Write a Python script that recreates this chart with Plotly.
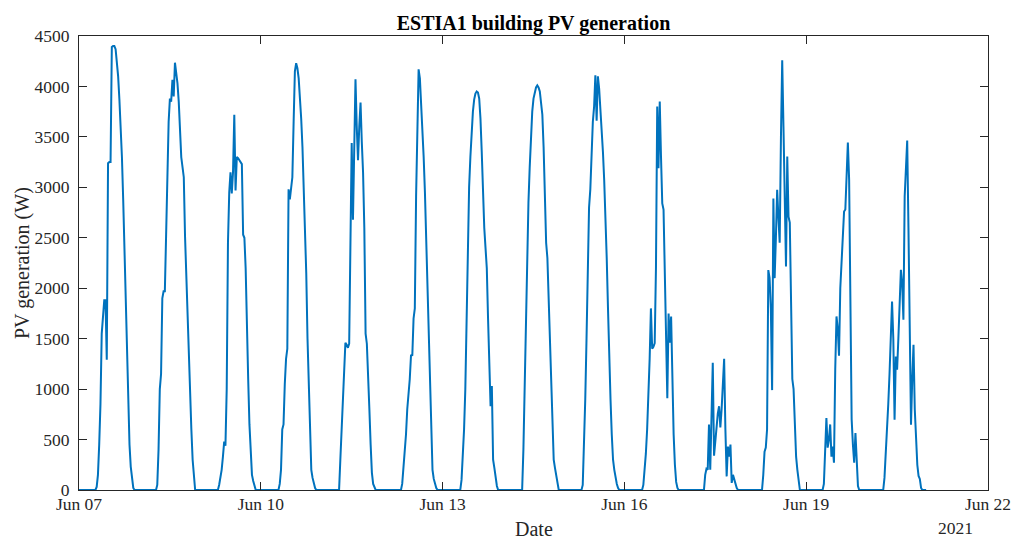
import pandas as pd
import plotly.graph_objects as go

# ---------------- data (30-min samples, each daily list starts at 06:00) ----------------
start_date = "2021-06-07"
slot_minutes = 30
first_slot_hour = 6

jun07 = [0, 0, 30, 150, 450, 850, 1550, 1780, 1880, 1880, 1290, 3240, 3250, 3250, 4390, 4400, 4400, 4370,
         4250, 4100, 3870, 3650, 3300, 2880, 2410, 1900, 1300, 800, 450, 230, 100, 20, 0]
jun08 = [0, 0, 50, 400, 1000, 1150, 1900, 1970, 1970, 2580, 3200, 3650, 3880, 3850, 4065, 3900, 4235, 4130,
         4030, 3850, 3600, 3300, 3200, 3100, 2510, 2100, 1650, 1260, 930, 600, 300, 100, 0]
jun09 = [0, 0, 0, 50, 120, 200, 330, 480, 440, 1000, 2450, 2950, 3150, 2940, 3150, 3720, 2970, 3300,
         3290, 3270, 3240, 3230, 2530, 2500, 2200, 1500, 1100, 650, 330, 150, 90, 40, 0]
jun10 = [0, 0, 0, 60, 200, 600, 650, 1050, 1300, 1400, 2980, 2880, 3000, 3100, 3650, 4150, 4230, 4180,
         4080, 3920, 3680, 3400, 3000, 2650, 2150, 1500, 1000, 550, 200, 120, 60, 20, 0]
jun11 = [0, 0, 0, 300, 600, 780, 1200, 1460, 1440, 1410, 1450, 2680, 3440, 2680, 3400, 4070, 3600, 3270,
         3600, 3840, 3450, 3150, 2600, 1550, 1450, 1200, 800, 450, 170, 60, 20, 0, 0]
jun12 = [0, 0, 0, 0, 60, 200, 350, 550, 800, 930, 1100, 1340, 1330, 1700, 1800, 2910, 3700, 4170,
         4080, 3850, 3600, 3300, 2950, 2500, 2000, 1500, 1050, 550, 200, 110, 50, 20, 0]
jun13 = [0, 0, 0, 100, 300, 600, 1000, 1800, 2500, 3000, 3300, 3550, 3750, 3870, 3930, 3950, 3940, 3880,
         3680, 3350, 2950, 2600, 2400, 2200, 1700, 1150, 830, 1030, 300, 220, 120, 40, 0]
jun14 = [0, 0, 0, 0, 400, 1000, 1700, 2400, 2850, 3200, 3500, 3750, 3880, 3950, 3990, 4010, 3990, 3950,
         3850, 3720, 3400, 2900, 2450, 2300, 1900, 1400, 1000, 600, 300, 220, 130, 50, 0]
jun15 = [0, 0, 0, 50, 400, 900, 1500, 2300, 2800, 2980, 3400, 3650, 3800, 4110, 3660, 4100, 3980, 3800,
         3600, 3350, 3070, 2750, 2300, 1800, 1260, 900, 550, 300, 200, 120, 60, 20, 0]
jun16 = [0, 0, 0, 50, 200, 360, 600, 900, 1300, 1800, 1400, 1420, 1456, 2200, 3800, 3190, 3850, 3300,
         2840, 2780, 2150, 1500, 910, 1750, 1460, 1720, 1000, 550, 250, 80, 20, 0, 0]
jun17 = [0, 0, 0, 0, 150, 210, 200, 650, 200, 700, 1260, 340, 500, 640, 760, 830, 620, 800,
         1000, 1300, 600, 135, 430, 330, 450, 70, 150, 100, 60, 20, 0, 0, 0]
jun18 = [0, 0, 150, 380, 420, 600, 2180, 2100, 1800, 990, 2890, 2100, 2500, 2975, 2700, 2450, 3500, 4260,
         3600, 2900, 2215, 3305, 2710, 2650, 1900, 1100, 1000, 650, 330, 200, 80, 0, 0]
jun19 = [0, 0, 60, 450, 713, 420, 500, 650, 330, 430, 270, 1200, 1720, 1600, 1330, 2000, 2300, 2600,
         2760, 2780, 3100, 3444, 3074, 1700, 700, 450, 270, 565, 200, 40, 0, 0, 0]
jun20 = [0, 0, 120, 330, 600, 850, 1150, 1600, 1869, 1500, 697, 1324, 1192, 1500, 1985, 2183, 2050, 1687,
         2909, 3200, 3464, 2600, 1700, 647, 1100, 1440, 800, 500, 250, 140, 110, 20, 0]

daily_profiles = [jun07, jun08, jun09, jun10, jun11, jun12, jun13,
                  jun14, jun15, jun16, jun17, jun18, jun19, jun20]

x_tick_dates = ["2021-06-07", "2021-06-10", "2021-06-13", "2021-06-16", "2021-06-19", "2021-06-22"]
x_tick_labels = ["Jun 07", "Jun 10", "Jun 13", "Jun 16", "Jun 19", "Jun 22"]
y_tick_values = [0, 500, 1000, 1500, 2000, 2500, 3000, 3500, 4000, 4500]

# ---------------- build series ----------------
slots_per_day = 24 * 60 // slot_minutes
lead = first_slot_hour * 60 // slot_minutes
values = []
for prof in daily_profiles:
    day = [0] * lead + list(prof)
    day = day + [0] * (slots_per_day - len(day))
    values.extend(day[:slots_per_day])
times = pd.date_range(start_date, periods=len(values), freq=f"{slot_minutes}min")

SERIF = "Liberation Serif, Times New Roman, serif"
AX = "#262626"

fig = go.Figure()
fig.add_trace(go.Scatter(x=times, y=values, mode="lines",
                         line=dict(color="#0072BD", width=2), showlegend=False,
                         hoverinfo="x+y"))

fig.update_layout(
    width=1013, height=538,
    margin=dict(l=79, r=25, t=36, b=48),
    paper_bgcolor="white", plot_bgcolor="white",
    font=dict(family=SERIF, color=AX, size=17.5),
    title=dict(text="<b>ESTIA1 building PV generation</b>", xref="paper", x=0.5, xanchor="center",
               yref="container", y=0.957, yanchor="middle",
               font=dict(family=SERIF, size=20, color="black")),
    xaxis=dict(
        range=["2021-06-07", "2021-06-22"], automargin=False,
        tickmode="array", tickvals=x_tick_dates, ticktext=x_tick_labels,
        ticks="inside", ticklen=8, tickcolor=AX, tickwidth=1,
        showline=True, linecolor=AX, linewidth=1, mirror="allticks",
        showgrid=False, zeroline=False, ticklabelstandoff=-2,
        tickfont=dict(family=SERIF, size=17.5, color=AX),
    ),
    yaxis=dict(
        range=[0, 4500], automargin=False,
        tickmode="array", tickvals=y_tick_values,
        ticks="inside", ticklen=8, tickcolor=AX, tickwidth=1,
        showline=True, linecolor=AX, linewidth=1, mirror="allticks",
        showgrid=False, zeroline=False, ticklabelstandoff=5,
        tickfont=dict(family=SERIF, size=17.5, color=AX),
    ),
    annotations=[
        dict(text="PV generation (W)", xref="paper", yref="paper", x=-0.0627, y=0.5,
             xanchor="center", yanchor="middle", textangle=-90, showarrow=False,
             font=dict(family=SERIF, size=20, color=AX)),
        dict(text="Date", xref="paper", yref="paper", x=0.5, y=-0.0870,
             xanchor="center", yanchor="middle", showarrow=False,
             font=dict(family=SERIF, size=20, color=AX)),
        dict(text="2021", xref="paper", yref="paper", x=0.9637, y=-0.0837,
             xanchor="center", yanchor="middle", showarrow=False,
             font=dict(family=SERIF, size=17.5, color=AX)),
    ],
)

fig.write_html("out.html", config={"displayModeBar": False},
               post_script="document.body.style.margin='0px';")
